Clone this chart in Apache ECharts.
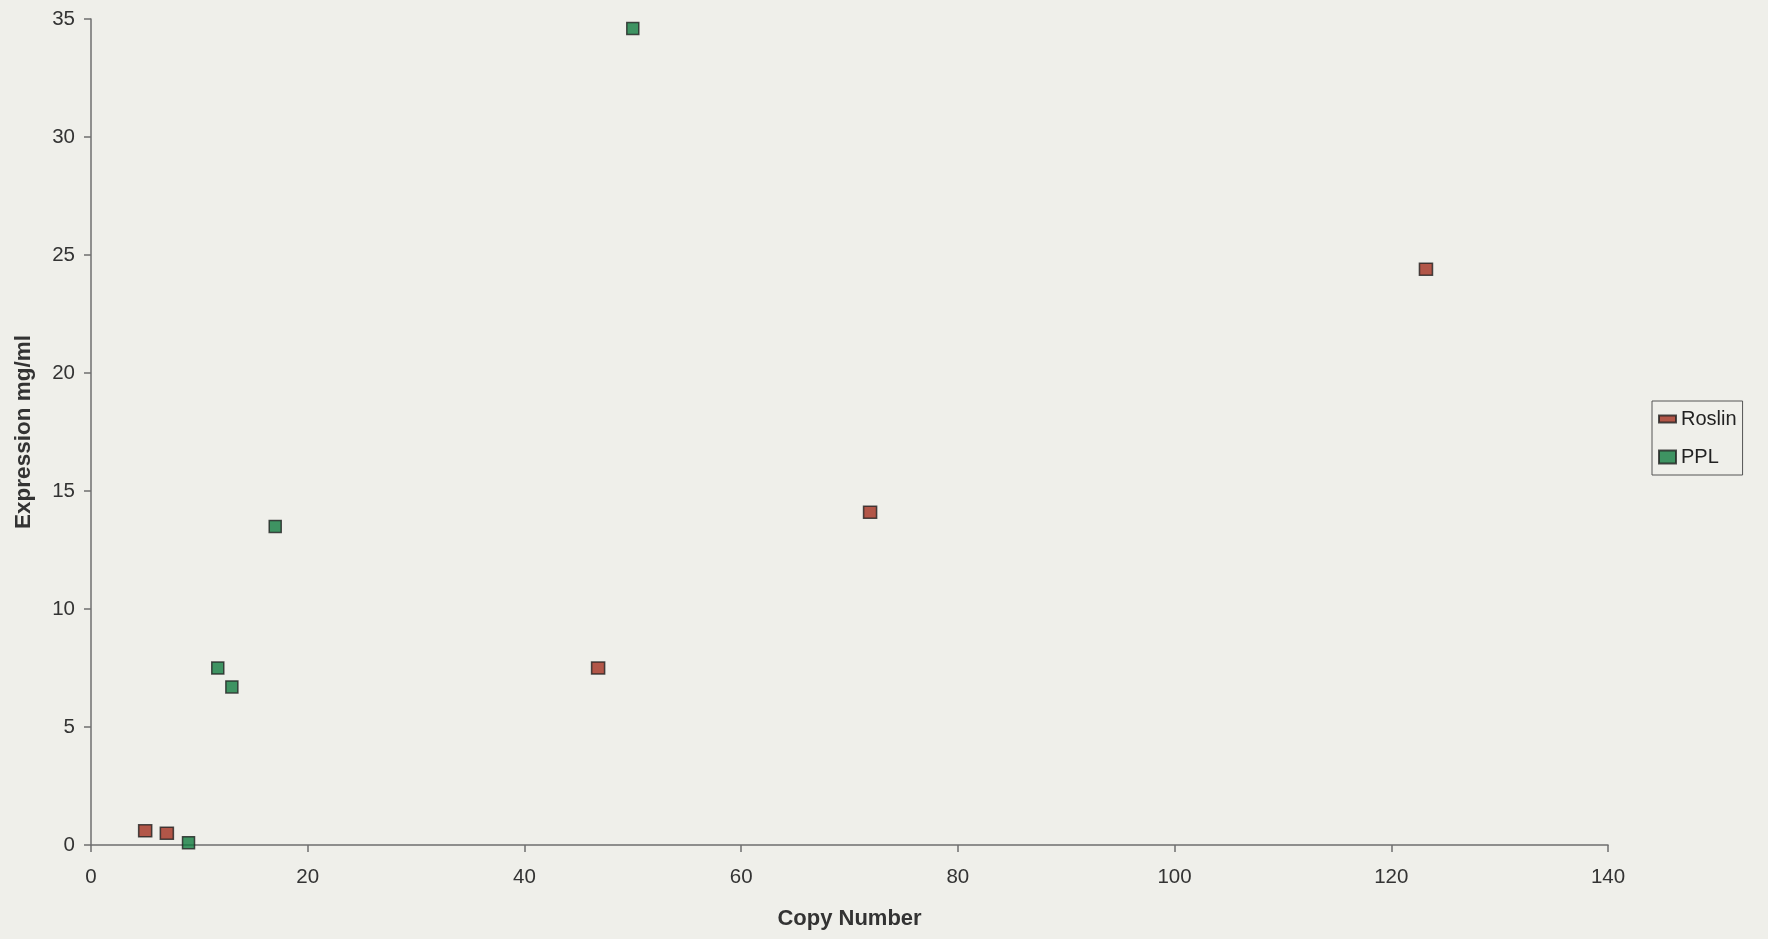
<!DOCTYPE html>
<html>
<head>
<meta charset="utf-8">
<title>Expression vs Copy Number</title>
<script src="https://cdn.jsdelivr.net/npm/echarts@6/dist/echarts.min.js"></script>
<style>
  html, body { margin: 0; padding: 0; background: #efefea; }
  #chart { width: 1768px; height: 939px; }
</style>
</head>
<body>
<div id="chart"></div>
<script>
  // values: [copy number, expression mg/ml]
  const roslinPoints = [[5, 0.6], [7, 0.5], [46.8, 7.5], [71.9, 14.1], [123.2, 24.4]]
  const pplPoints = [[9, 0.1], [11.7, 7.5], [13, 6.7], [17, 13.5], [50, 34.6]]
  const xTicks = { min: 0, max: 140, interval: 20 }
  const yTicks = { min: 0, max: 35, interval: 5 }

  const chart = echarts.init(document.getElementById('chart'))
  const font = 'Liberation Sans, Arial, sans-serif'
  const axisGrey = '#6f6f6f'

  const option = {
    backgroundColor: '#efefea',
    animation: false,
    grid: { left: 91, right: 160, top: 19, bottom: 94 },
    legend: {
      orient: 'vertical',
      left: 1652,
      top: 401,
      padding: [8, 6, 8, 6],
      itemGap: 18,
      itemWidth: 17,
      itemHeight: 13,
      symbolKeepAspect: true,
      borderColor: '#555',
      borderWidth: 1,
      textStyle: { fontFamily: font, fontSize: 20, color: '#222' },
      data: [
        { name: 'Roslin', icon: 'path://M0,0h17v7h-17z' },
        { name: 'PPL', icon: 'rect' }
      ]
    },
    xAxis: {
      type: 'value',
      min: xTicks.min, max: xTicks.max, interval: xTicks.interval,
      name: 'Copy Number',
      nameLocation: 'middle',
      nameGap: 63,
      nameTextStyle: { fontFamily: font, fontSize: 22, fontWeight: 'bold', color: '#333' },
      axisLine: { lineStyle: { color: axisGrey, width: 1.5 } },
      axisTick: { length: 7, lineStyle: { color: axisGrey, width: 1.5 } },
      axisLabel: { margin: 22, fontFamily: font, fontSize: 20.5, color: '#333' },
      splitLine: { show: false }
    },
    yAxis: {
      type: 'value',
      min: yTicks.min, max: yTicks.max, interval: yTicks.interval,
      name: 'Expression mg/ml',
      nameLocation: 'middle',
      nameGap: 56,
      nameTextStyle: { fontFamily: font, fontSize: 22.5, fontWeight: 'bold', color: '#333' },
      axisLine: { show: true, lineStyle: { color: axisGrey, width: 1.5 } },
      axisTick: { show: true, length: 7, lineStyle: { color: axisGrey, width: 1.5 } },
      axisLabel: { margin: 16, fontFamily: font, fontSize: 20.5, color: '#333' },
      splitLine: { show: false }
    },
    series: [
      {
        name: 'Roslin',
        type: 'scatter',
        symbol: 'rect',
        symbolSize: [13, 12],
        itemStyle: { color: '#a3301f', borderColor: '#222', borderWidth: 1.5 },
        data: roslinPoints
      },
      {
        name: 'PPL',
        type: 'scatter',
        symbol: 'rect',
        symbolSize: [12, 12],
        itemStyle: { color: '#127c40', borderColor: '#222', borderWidth: 1.5 },
        data: pplPoints
      }
    ]
  }

  chart.setOption(option)
</script>
</body>
</html>
